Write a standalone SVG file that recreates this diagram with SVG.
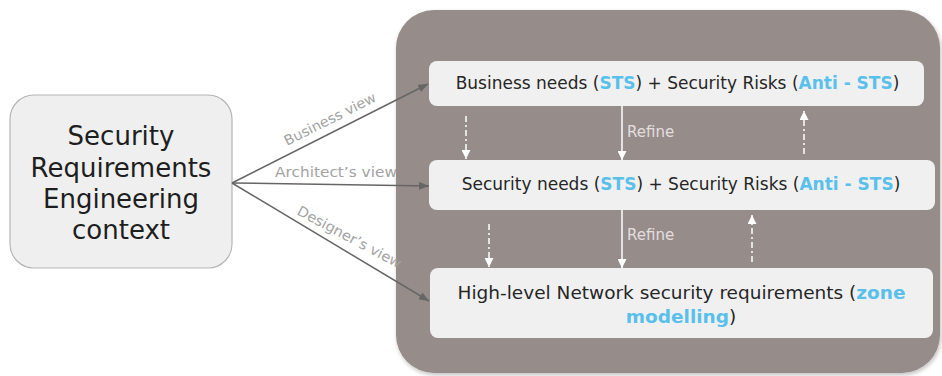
<svg xmlns="http://www.w3.org/2000/svg" width="942" height="376" viewBox="0 0 942 376">
<style>
.ctx{font-family:"DejaVu Sans","Liberation Sans",sans-serif;font-size:26px;fill:#1e1e1e;text-anchor:middle}
.lbl{font-family:"DejaVu Sans","Liberation Sans",sans-serif;font-size:14px;fill:#a3a3a3}
.bx{font-family:"DejaVu Sans","Liberation Sans",sans-serif;font-size:17px;fill:#262626;text-anchor:middle}
.bx3{font-family:"DejaVu Sans","Liberation Sans",sans-serif;font-size:18.5px;fill:#262626;text-anchor:middle}
.hl{fill:#59c0ec;font-weight:bold}
.ref{font-family:"DejaVu Sans","Liberation Sans",sans-serif;font-size:15px;fill:#e2dede}
.box{fill:#f0f0f0}
.gl{stroke:#666;stroke-width:1.5;fill:none}
.wl{stroke:#fff;stroke-width:1.5;fill:none}
.wd{stroke:#fff;stroke-width:1.5;fill:none;stroke-dasharray:6 3 2 3}
</style>
<defs>
<marker id="ag" markerWidth="10" markerHeight="8" refX="10" refY="4" orient="auto" markerUnits="userSpaceOnUse"><path d="M0,0 L10,4 L0,8 z" fill="#666"/></marker>
<marker id="aw" markerWidth="9" markerHeight="9" refX="9" refY="4.5" orient="auto" markerUnits="userSpaceOnUse"><path d="M0,0 L9,4.5 L0,9 z" fill="#fff"/></marker>
<filter id="sh" x="-5%" y="-5%" width="110%" height="110%"><feDropShadow dx="1" dy="2" stdDeviation="2" flood-color="#000" flood-opacity="0.25"/></filter>
</defs>
<g id="container"><rect x="396" y="10" width="544" height="363" rx="38" fill="#968c8a" filter="url(#sh)"/></g>
<g id="context">
<rect x="10" y="95" width="222" height="173" rx="24" fill="#efefef" stroke="#b5b5b5" stroke-width="1.2"/>
<text class="ctx" x="121" y="145">Security</text>
<text class="ctx" x="121" y="177">Requirements</text>
<text class="ctx" x="121" y="208">Engineering</text>
<text class="ctx" x="121" y="239">context</text>
</g>
<g id="business">
<rect class="box" x="429" y="61" width="495" height="45" rx="8"/>
<text class="bx" x="677.5" y="89">Business needs (<tspan class="hl">STS</tspan>) + Security Risks (<tspan class="hl">Anti - STS</tspan>)</text>
</g>
<g id="security">
<rect class="box" x="429" y="160" width="506" height="50" rx="8"/>
<text class="bx" x="681" y="190">Security needs (<tspan class="hl">STS</tspan>) + Security Risks (<tspan class="hl">Anti - STS</tspan>)</text>
</g>
<g id="network">
<rect class="box" x="430" y="268" width="503" height="70" rx="8"/>
<text class="bx3" x="681.5" y="299">High-level Network security requirements (<tspan class="hl">zone</tspan></text>
<text class="bx3" x="681" y="323"><tspan class="hl">modelling</tspan>)</text>
</g>
<g id="connectors">
<line class="gl" x1="232" y1="183" x2="428" y2="84" marker-end="url(#ag)"/>
<line class="gl" x1="232" y1="183" x2="429" y2="186" marker-end="url(#ag)"/>
<line class="gl" x1="232" y1="183" x2="429" y2="301" marker-end="url(#ag)"/>
<text class="lbl" transform="translate(287,146) rotate(-26.7)" textLength="101" lengthAdjust="spacingAndGlyphs">Business view</text>
<text class="lbl" x="275" y="177" textLength="122" lengthAdjust="spacingAndGlyphs">Architect’s view</text>
<text class="lbl" transform="translate(296,214) rotate(28)" textLength="116" lengthAdjust="spacingAndGlyphs">Designer’s view</text>
<line class="wl" x1="622" y1="106" x2="622" y2="160" marker-end="url(#aw)"/>
<line class="wl" x1="622" y1="210" x2="622" y2="268" marker-end="url(#aw)"/>
<text class="ref" x="627" y="137">Refine</text>
<text class="ref" x="627" y="240">Refine</text>
<line class="wd" x1="466" y1="116" x2="466" y2="159" marker-end="url(#aw)"/>
<line class="wd" x1="804" y1="154" x2="804" y2="111" marker-end="url(#aw)"/>
<line class="wd" x1="489" y1="224" x2="489" y2="267" marker-end="url(#aw)"/>
<line class="wd" x1="752" y1="262" x2="752" y2="215" marker-end="url(#aw)"/>
</g>
</svg>
